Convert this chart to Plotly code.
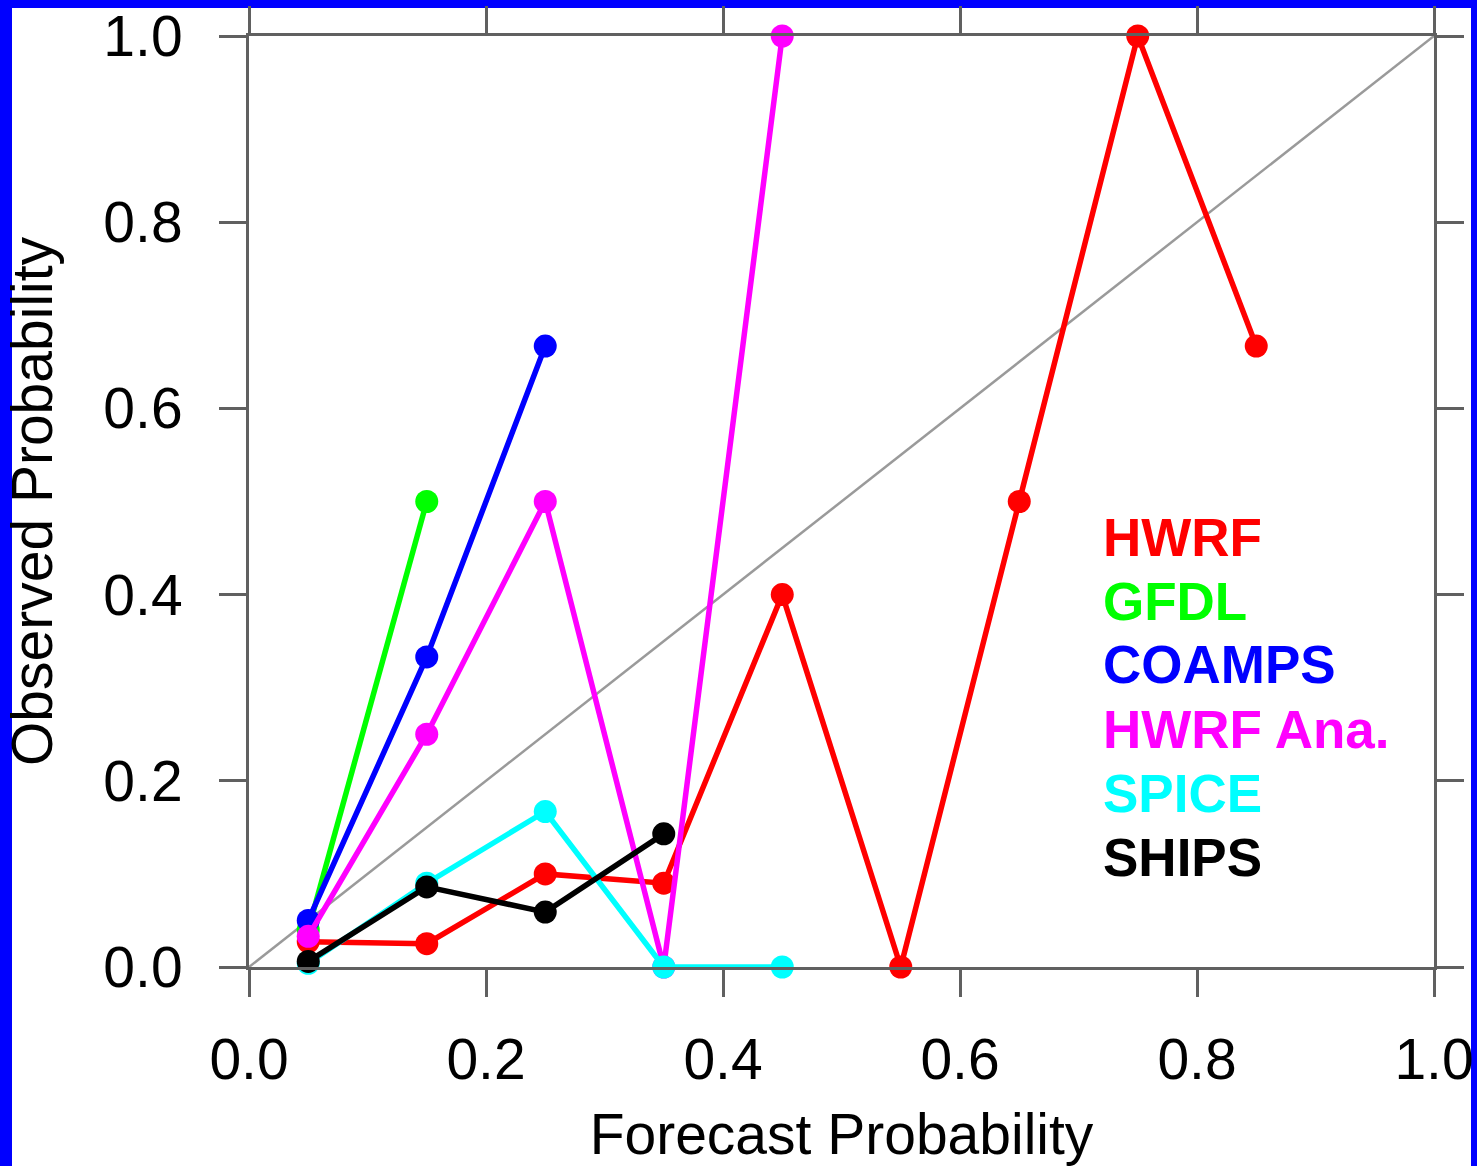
import plotly.graph_objects as go

# ---- data ----
series_names = ["HWRF", "GFDL", "COAMPS", "HWRF Ana.", "SPICE", "SHIPS"]
series_colors = ["#ff0000", "#00ff00", "#0000ff", "#ff00ff", "#00ffff", "#000000"]

hwrf_x = [0.05, 0.15, 0.25, 0.35, 0.45, 0.55, 0.65, 0.75, 0.85]
hwrf_y = [0.027, 0.025, 0.10, 0.09, 0.40, 0.0, 0.50, 1.0, 0.667]

gfdl_x = [0.05, 0.15]
gfdl_y = [0.04, 0.50]

coamps_x = [0.05, 0.15, 0.25]
coamps_y = [0.05, 0.333, 0.667]

hwrfana_x = [0.05, 0.15, 0.25, 0.35, 0.45]
hwrfana_y = [0.033, 0.25, 0.50, 0.0, 1.0]

spice_x = [0.05, 0.15, 0.25, 0.35, 0.45]
spice_y = [0.004, 0.09, 0.167, 0.0, 0.0]

ships_x = [0.05, 0.15, 0.25, 0.35]
ships_y = [0.006, 0.086, 0.059, 0.143]

diag_x = [0.0, 1.0]
diag_y = [0.0, 1.0]

tick_vals = [0.0, 0.2, 0.4, 0.6, 0.8, 1.0]
tick_text = ["0.0", "0.2", "0.4", "0.6", "0.8", "1.0"]

legend_y = [0.4616, 0.393, 0.325, 0.2554, 0.1867, 0.1179]
legend_x = 0.719

xs = [hwrf_x, gfdl_x, coamps_x, hwrfana_x, spice_x, ships_x]
ys = [hwrf_y, gfdl_y, coamps_y, hwrfana_y, spice_y, ships_y]

FONT = "Liberation Sans, Arial, Helvetica, sans-serif"

fig = go.Figure()

fig.add_trace(go.Scatter(x=diag_x, y=diag_y, mode="lines",
                         line=dict(color="#9a9a9a", width=2.5),
                         showlegend=False, hoverinfo="skip"))

for name, color, x, y in zip(series_names, series_colors, xs, ys):
    fig.add_trace(go.Scatter(x=x, y=y, mode="lines+markers", name=name,
                             line=dict(color=color, width=5.5),
                             marker=dict(color=color, size=23),
                             showlegend=False, cliponaxis=False))

for name, color, ly in zip(series_names, series_colors, legend_y):
    fig.add_annotation(x=legend_x, y=ly, xref="x", yref="y", text="<b>%s</b>" % name,
                       showarrow=False, xanchor="left", yanchor="middle",
                       font=dict(family=FONT, size=53, color=color))

axis_common = dict(
    range=[0, 1], tickmode="array", tickvals=tick_vals, ticktext=tick_text,
    showgrid=False, zeroline=False, showline=True, linecolor="#606060", linewidth=3,
    mirror="allticks", ticks="outside", ticklen=27, tickwidth=3, tickcolor="#606060",
    tickfont=dict(family=FONT, size=57, color="#000000"), automargin=False,
)

fig.update_xaxes(**axis_common, ticklabelstandoff=14,
                 title=dict(text="Forecast Probability", font=dict(family=FONT, size=57, color="#000000"),
                            standoff=32))
fig.update_yaxes(**axis_common, ticklabelstandoff=25,
                 title=dict(text="Observed Probability", font=dict(family=FONT, size=57, color="#000000"),
                            standoff=50))

# blue frame around the page (white panel over blue paper)
fig.add_shape(type="rect", xref="paper", yref="paper",
              x0=(12 - 249) / 1185, x1=(1471 - 249) / 1185,
              y0=-0.4, y1=(967 - 8) / 931,
              fillcolor="#ffffff", line=dict(width=0), layer="below")

fig.update_layout(
    width=1477, height=1166,
    margin=dict(l=249, r=43, t=36, b=199, autoexpand=False),
    paper_bgcolor="#0000ff", plot_bgcolor="rgba(0,0,0,0)",
    showlegend=False,
)

fig.write_html("out.html")
